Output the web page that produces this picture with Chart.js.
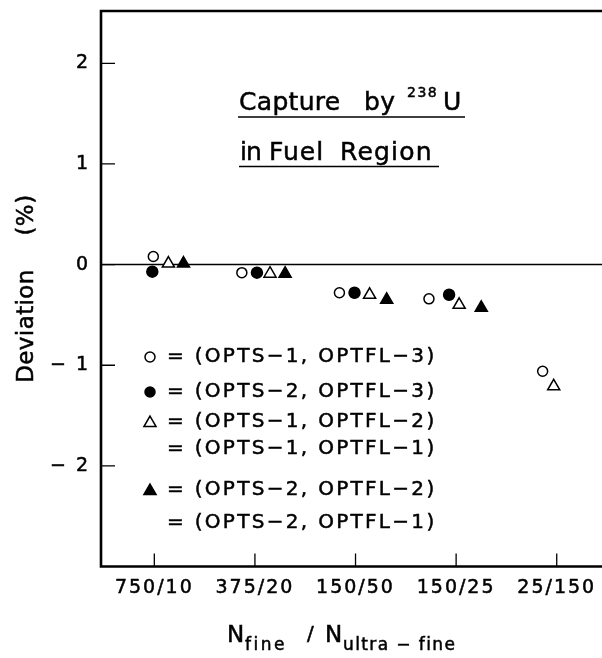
<!DOCTYPE html>
<html>
<head>
<meta charset="utf-8">
<script src="https://cdn.jsdelivr.net/npm/chart.js@4/dist/chart.umd.min.js"></script>
<style>
  html, body { margin: 0; padding: 0; background: #fff; }
  #wrap { width: 602px; height: 658px; }
</style>
</head>
<body>
<div id="wrap"><canvas id="myChart" width="602" height="658"></canvas></div>
<script>
// mesh pairs along the bottom axis
const meshLabels = ['750/10', '375/20', '150/50', '150/25', '25/150'];
const yTickValues = [-2, -1, 0, 1, 2];

// x = mesh index + small shift so the four symbols sit side by side
const openCircleX = [-0.01, -0.13, -0.16, -0.27, -0.14];
const openCircleY = [0.08, -0.08, -0.28, -0.34, -1.06];
const fullCircleX = [-0.02, 0.02, -0.01, -0.07];
const fullCircleY = [-0.07, -0.08, -0.28, -0.30];
const openTriX = [0.14, 0.15, 0.14, 0.03, -0.03];
const openTriY = [0.01, -0.09, -0.30, -0.40, -1.21];
const fullTriX = [0.29, 0.30, 0.31, 0.25];
const fullTriY = [0.01, -0.09, -0.35, -0.43];

const legendRows = [
    { marker: 'openCircle', text: '= (OPTS\u22121, OPTFL\u22123)' },
    { marker: 'fullCircle', text: '= (OPTS\u22122, OPTFL\u22123)' },
    { marker: 'openTri', text: '= (OPTS\u22121, OPTFL\u22122)' },
    { marker: null, text: '= (OPTS\u22121, OPTFL\u22121)' },
    { marker: 'fullTri', text: '= (OPTS\u22122, OPTFL\u22122)' },
    { marker: null, text: '= (OPTS\u22122, OPTFL\u22121)' }
];

const FONT = '"DejaVu Sans", sans-serif';

function toPoints(xs, ys) {
    return ys.map((v, i) => ({ x: i + xs[i], y: v }));
}

function drawMarker(ctx, kind, x, y) {
    ctx.save();
    ctx.lineWidth = 1.5;
    ctx.strokeStyle = '#000';
    ctx.fillStyle = kind.indexOf('full') === 0 ? '#000' : '#fff';
    ctx.beginPath();
    if (kind.indexOf('Circle') > 0) {
        ctx.arc(x, y, 5, 0, Math.PI * 2);
    } else {
        const r = 7;
        ctx.moveTo(x, y - r);
        ctx.lineTo(x + r * 0.866, y + r / 2);
        ctx.lineTo(x - r * 0.866, y + r / 2);
        ctx.closePath();
    }
    ctx.fill();
    ctx.stroke();
    ctx.restore();
}

// text with a faint outline so the thin sans reads like the heavier lettering
function txt(ctx, s, x, y, size, spacing) {
    ctx.font = size + 'px ' + FONT;
    ctx.letterSpacing = (spacing || 0) + 'px';
    ctx.lineWidth = 0.5;
    ctx.strokeText(s, x, y);
    ctx.fillText(s, x, y);
}

const paperPlugin = {
    id: 'paper',
    beforeDraw(chart) {
        chart.ctx.letterSpacing = '2px';
    },
    beforeDatasetsDraw(chart) {
        const ctx = chart.ctx;
        const a = chart.chartArea;
        const xs = chart.scales.x;
        const ys = chart.scales.y;
        ctx.save();
        ctx.strokeStyle = '#000';

        // zero line
        const y0 = ys.getPixelForValue(0);
        ctx.lineWidth = 1.5;
        ctx.beginPath();
        ctx.moveTo(a.left, y0);
        ctx.lineTo(a.right, y0);
        ctx.stroke();

        // inward tick marks
        ctx.lineWidth = 1.3;
        ctx.beginPath();
        yTickValues.forEach(v => {
            const py = ys.getPixelForValue(v);
            ctx.moveTo(a.left, py);
            ctx.lineTo(a.left + 14, py);
        });
        meshLabels.forEach((_, i) => {
            const px = xs.getPixelForValue(i);
            ctx.moveTo(px, a.bottom);
            ctx.lineTo(px, a.bottom - 13);
        });
        ctx.stroke();

        // frame: left, bottom, top
        ctx.lineWidth = 2.6;
        ctx.beginPath();
        ctx.moveTo(a.right, a.top);
        ctx.lineTo(a.left, a.top);
        ctx.lineTo(a.left, a.bottom);
        ctx.lineTo(a.right, a.bottom);
        ctx.stroke();
        ctx.restore();
    },
    afterDraw(chart) {
        const ctx = chart.ctx;
        ctx.save();
        ctx.fillStyle = '#000';
        ctx.strokeStyle = '#000';
        ctx.textAlign = 'left';
        ctx.textBaseline = 'alphabetic';

        // title block
        txt(ctx, 'Capture', 239, 110, 25, 0.3);
        txt(ctx, 'by', 364, 110, 25, 0.3);
        txt(ctx, '238', 407, 97, 14, 1.5);
        txt(ctx, 'U', 443, 110, 25, 0);
        txt(ctx, 'in', 240, 160, 25, -1);
        txt(ctx, 'Fuel', 269, 160, 25, 1);
        txt(ctx, 'Region', 340, 160, 25, 1.2);
        ctx.lineWidth = 1.5;
        ctx.beginPath();
        ctx.moveTo(238, 117);
        ctx.lineTo(465, 117);
        ctx.moveTo(239, 166.5);
        ctx.lineTo(439, 166.5);
        ctx.stroke();

        // legend
        const rowY = [357, 392, 422, 449, 490, 523];
        ctx.textBaseline = 'middle';
        legendRows.forEach((row, i) => {
            if (row.marker) drawMarker(ctx, row.marker, 150, rowY[i] + (row.marker.indexOf('Tri') > 0 ? 1 : 0));
            txt(ctx, row.text, 167, rowY[i], 20, 2.3);
        });

        // y axis title
        ctx.textBaseline = 'alphabetic';
        ctx.save();
        ctx.translate(33, 0);
        ctx.rotate(-Math.PI / 2);
        ctx.textAlign = 'center';
        txt(ctx, 'Deviation', -326, 0, 23, 0.4);
        txt(ctx, '(%)', -215, 0, 23, 0.4);
        ctx.restore();

        // x axis title
        ctx.textAlign = 'left';
        txt(ctx, 'N', 227, 642, 23, 0);
        txt(ctx, 'fine', 245, 650, 17, 2.5);
        txt(ctx, '/', 307, 640, 20, 0);
        txt(ctx, 'N', 325, 642, 23, 0);
        txt(ctx, 'ultra \u2212 fine', 343, 650, 17, 1.4);
        ctx.restore();
    }
};

const pointBase = { showLine: false, borderColor: '#000', borderWidth: 1.5 };

const data = {
    datasets: [
        Object.assign({ label: 'OPTS-1, OPTFL-3', data: toPoints(openCircleX, openCircleY),
            pointStyle: 'circle', pointRadius: 5, backgroundColor: '#fff' }, pointBase),
        Object.assign({ label: 'OPTS-2, OPTFL-3', data: toPoints(fullCircleX, fullCircleY),
            pointStyle: 'circle', pointRadius: 5.5, backgroundColor: '#000' }, pointBase),
        Object.assign({ label: 'OPTS-1, OPTFL-2', data: toPoints(openTriX, openTriY),
            pointStyle: 'triangle', pointRadius: 7, backgroundColor: '#fff' }, pointBase),
        Object.assign({ label: 'OPTS-2, OPTFL-2', data: toPoints(fullTriX, fullTriY),
            pointStyle: 'triangle', pointRadius: 7, backgroundColor: '#000' }, pointBase)
    ]
};

const config = {
    type: 'scatter',
    data: data,
    options: {
        responsive: false,
        animation: false,
        events: [],
        layout: { autoPadding: false, padding: { top: 11, right: 0, left: 0, bottom: 0 } },
        plugins: {
            legend: { display: false },
            tooltip: { enabled: false }
        },
        scales: {
            x: {
                type: 'linear',
                min: -0.53,
                max: 4.45,
                grid: { display: false, drawTicks: false },
                border: { display: false },
                afterBuildTicks: s => { s.ticks = meshLabels.map((_, i) => ({ value: i })); },
                afterFit: s => { s.height = 91.5; s.paddingLeft = 0; s.paddingRight = 0; },
                ticks: {
                    padding: 10,
                    maxRotation: 0,
                    autoSkip: false,
                    color: '#000',
                    textStrokeColor: '#000',
                    textStrokeWidth: 0.5,
                    font: { family: FONT, size: 19 },
                    callback: v => meshLabels[v]
                }
            },
            y: {
                min: -3,
                max: 2.52,
                grid: { display: false, drawTicks: false },
                border: { display: false },
                afterBuildTicks: s => { s.ticks = yTickValues.map(v => ({ value: v })); },
                afterFit: s => { s.width = 101; s.paddingTop = 0; s.paddingBottom = 0; },
                ticks: {
                    padding: 11,
                    color: '#000',
                    textStrokeColor: '#000',
                    textStrokeWidth: 0.5,
                    font: { family: FONT, size: 19 },
                    callback: v => v < 0 ? '\u2212 ' + Math.abs(v) : String(v)
                }
            }
        }
    },
    plugins: [paperPlugin]
};

const myChart = new Chart(document.getElementById('myChart'), config);
</script>
</body>
</html>
